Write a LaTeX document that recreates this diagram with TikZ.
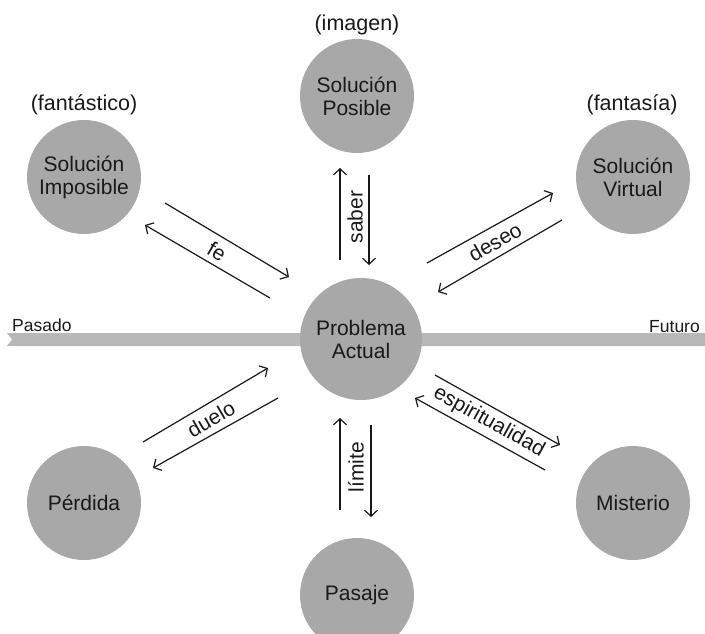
\documentclass[tikz,border=0pt]{standalone}
\usepackage{fontspec}
\setmainfont{Liberation Sans}
\usetikzlibrary{arrows.meta}
\definecolor{circgray}{RGB}{168,168,168}
\definecolor{bargray}{RGB}{184,184,184}
\definecolor{ink}{RGB}{25,25,25}
\tikzset{
  circ/.style={circle, fill=circgray, draw=none, minimum size=114pt, inner sep=0pt, align=center, text=ink, font=\fontsize{21}{23}\selectfont},
  bigcirc/.style={circ, minimum size=122pt},
  tag/.style={font=\fontsize{21.5}{24}\selectfont, text=ink, inner sep=0pt},
  lbl/.style={font=\fontsize{21}{24}\selectfont, text=ink, inner sep=0pt},
  endlbl/.style={font=\fontsize{17.5}{20}\selectfont, text=ink, inner sep=0pt},
  conn/.style={draw=ink, line width=1.2pt, -{Straight Barb[length=6pt,width=13pt,line width=1.2pt]}}
}
\begin{document}
\begin{tikzpicture}[x=1pt,y=-1pt]
\useasboundingbox (0,0) rectangle (705,633);
% time bar
\fill[bargray] (7,333) -- (12,339.5) -- (7,346) -- (705,346) -- (705,333) -- cycle;
\node[endlbl, anchor=base west] (pasado) at (12,331) {Pasado};
\node[endlbl, anchor=base east] (futuro) at (700,332) {Futuro};
% circles
\node[bigcirc] (prob) at (361,339) {Problema\\Actual};
\node[circ] (pos) at (357,96) {Solución\\Posible};
\node[circ] (imp) at (84,177) {Solución\\Imposible};
\node[circ] (vir) at (633,177) {Solución\\Virtual};
\node[circ] (per) at (84,503) {Pérdida};
\node[circ] (mis) at (633,503) {Misterio};
\node[circ] (pas) at (357,595) {Pasaje};
% tags
\node[tag] (timagen) at (357,25) {(imagen)};
\node[tag] (tfant) at (84,105) {(fantástico)};
\node[tag] (tfantasia) at (632,105) {(fantasía)};
% connector endpoints
\coordinate (feA1) at (165,203); \coordinate (feA2) at (289,277);
\coordinate (feB1) at (270,298); \coordinate (feB2) at (145,225);
\coordinate (saA1) at (340,260); \coordinate (saA2) at (340,168);
\coordinate (saB1) at (369,175); \coordinate (saB2) at (369,265);
\coordinate (deA1) at (427,263); \coordinate (deA2) at (553,193);
\coordinate (deB1) at (562,220); \coordinate (deB2) at (438,292);
\coordinate (esA1) at (435,375); \coordinate (esA2) at (560,445);
\coordinate (esB1) at (545,470); \coordinate (esB2) at (415,398);
\coordinate (duA1) at (143,442); \coordinate (duA2) at (268,368);
\coordinate (duB1) at (278,398); \coordinate (duB2) at (153,468);
\coordinate (liA1) at (340,510); \coordinate (liA2) at (340,418);
\coordinate (liB1) at (371,425); \coordinate (liB2) at (371,517);
\draw[conn] (feA1) -- (feA2);
\draw[conn] (feB1) -- (feB2);
\draw[conn] (saA1) -- (saA2);
\draw[conn] (saB1) -- (saB2);
\draw[conn] (deA1) -- (deA2);
\draw[conn] (deB1) -- (deB2);
\draw[conn] (esA1) -- (esA2);
\draw[conn] (esB1) -- (esB2);
\draw[conn] (duA1) -- (duA2);
\draw[conn] (duB1) -- (duB2);
\draw[conn] (liA1) -- (liA2);
\draw[conn] (liB1) -- (liB2);
% connector labels
\node[lbl, rotate=-30] (lfe) at (217,251) {fe};
\node[lbl, rotate=90] (lsaber) at (355,217) {saber};
\node[lbl, rotate=30] (ldeseo) at (495,242) {deseo};
\node[lbl, rotate=-29] (lesp) at (489,422) {espiritualidad};
\node[lbl, rotate=30] (lduelo) at (211,419) {duelo};
\node[lbl, rotate=90] (llimite) at (356,467) {límite};
\end{tikzpicture}
\end{document}
